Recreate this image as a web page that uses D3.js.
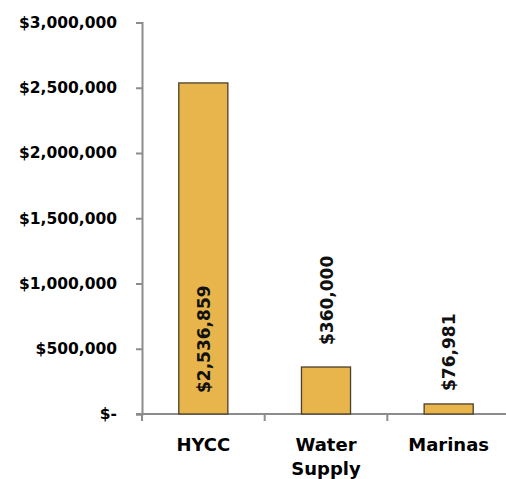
<!DOCTYPE html>
<html><head><meta charset="utf-8">
<script src="https://cdn.jsdelivr.net/npm/d3@7"></script>
<style>body{margin:0;background:#fff}svg{display:block}text{font-family:"DejaVu Sans","Liberation Sans",Arial,sans-serif}</style>
</head><body><svg id="c" width="506" height="479"></svg>
<script>
const categories = [["HYCC"], ["Water", "Supply"], ["Marinas"]];
const values = [2536859, 360000, 76981];
const valueLabels = ["$2,536,859", "$360,000", "$76,981"];
const tickValues = [0, 500000, 1000000, 1500000, 2000000, 2500000, 3000000];
const tickLabels = ["$-", "$500,000", "$1,000,000", "$1,500,000", "$2,000,000", "$2,500,000", "$3,000,000"];

(function () {
const svg = d3.select("#c");
const mLeft = 142, mRight = 510, mTop = 22.5, mBottom = 414;
const x = d3.scaleBand().domain(d3.range(values.length)).range([mLeft, mRight]).paddingInner(0.6).paddingOuter(0.3);
const xOuter = d3.scaleBand().domain(d3.range(values.length)).range([mLeft, mRight]);
const y = d3.scaleLinear().domain([0, 3000000]).range([mBottom, mTop]);

// y axis
const yAxis = svg.append("g").attr("transform", `translate(${mLeft},0)`)
  .call(d3.axisLeft(y).tickValues(tickValues).tickSize(6).tickPadding(19).tickFormat((d, i) => tickLabels[i]));
yAxis.select(".domain").attr("stroke", "#8c8c8c").attr("stroke-width", 2);
yAxis.selectAll(".tick line").attr("stroke", "#8c8c8c").attr("stroke-width", 2);
yAxis.selectAll(".tick text").attr("fill", "#000").style("font-size", "15.5px").style("font-weight", "bold");

// x axis baseline and category ticks
svg.append("line").attr("x1", mLeft - 6).attr("x2", 506).attr("y1", mBottom).attr("y2", mBottom)
  .attr("stroke", "#8c8c8c").attr("stroke-width", 2);
svg.selectAll("line.ct").data(d3.range(values.length)).join("line").attr("class", "ct")
  .attr("x1", d => xOuter(d)).attr("x2", d => xOuter(d)).attr("y1", mBottom).attr("y2", mBottom + 7)
  .attr("stroke", "#8c8c8c").attr("stroke-width", 2);

// bars
svg.selectAll("rect.bar").data(values).join("rect").attr("class", "bar")
  .attr("x", (d, i) => x(i)).attr("width", x.bandwidth())
  .attr("y", d => y(d)).attr("height", d => mBottom - y(d))
  .attr("fill", "#e8b54d").attr("stroke", "#4a3f2a").attr("stroke-width", 1.3);

// value labels
svg.selectAll("text.val").data(values).join("text").attr("class", "val")
  .attr("transform", (d, i) => {
    const cx = x(i) + x.bandwidth() / 2 + 6.5;
    const yy = i === 0 ? mBottom - 21 : y(d) - (i === 1 ? 22 : 13);
    return `translate(${cx},${yy}) rotate(-90)`;
  })
  .attr("text-anchor", "start").style("font-size", "17px").style("font-weight", "bold").attr("fill", "#111")
  .text((d, i) => valueLabels[i]);

// category labels
const cat = svg.selectAll("text.cat").data(categories).join("text").attr("class", "cat")
  .attr("x", (d, i) => xOuter(i) + xOuter.bandwidth() / 2).attr("y", 450.5)
  .attr("text-anchor", "middle").style("font-size", "18px").style("font-weight", "bold").attr("fill", "#000");
cat.selectAll("tspan").data(d => d).join("tspan")
  .attr("x", function () { return this.parentNode.getAttribute("x"); })
  .attr("dy", (d, j) => j === 0 ? 0 : 24).text(d => d);
})();
</script></body></html>
